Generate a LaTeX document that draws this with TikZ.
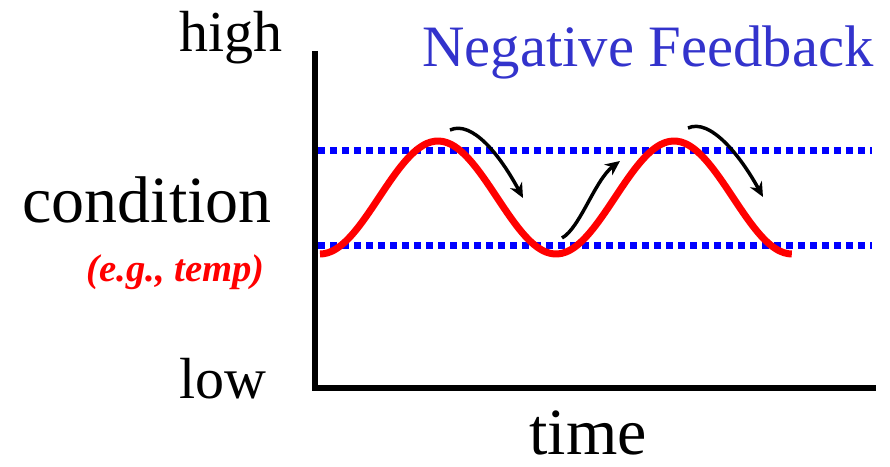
\documentclass[tikz,border=0pt]{standalone}
\usepackage{fontspec}
\setmainfont{Liberation Serif}
\usepackage{xcolor}
\usetikzlibrary{arrows.meta,positioning}
\definecolor{fbblue}{RGB}{51,51,204}

\begin{document}
\begin{tikzpicture}[
  x=0.75pt, y=-0.75pt,
  axisline/.style={line width=4.5pt,line join=miter},
  limit/.style={blue,line width=5.25pt,dash pattern=on 5.25pt off 3.75pt},
  wave/.style={red,line width=5.25pt},
  arr/.style={-{Stealth[length=11pt,width=10pt,inset=3.5pt]},line width=2.6pt},
  lbl/.style={inner sep=0pt,font=\fontsize{43.5}{50}\selectfont},
  big/.style={inner sep=0pt,font=\fontsize{49.5}{56}\selectfont}
]
  \useasboundingbox (0,0) rectangle (890,467);

  % axes
  \coordinate (top) at (315,51);
  \coordinate (origin) at (315,388);
  \coordinate (right) at (876,388);
  \draw[axisline] (top) -- (origin) -- (right);

  % set point limits
  \coordinate (hiL) at (318,151);
  \coordinate (hiR) at (872,151);
  \coordinate (loL) at (318,245);
  \coordinate (loR) at (872,245);
  \draw[limit] (hiL) -- (hiR);
  \draw[limit] (loL) -- (loR);

  % condition over time
  \draw[wave] plot[domain=0:2,samples=120,smooth] ({320+236*\x},{197.5+56.5*cos(360*\x)});

  % labels
  \node[lbl, anchor=base east] (high) at (283,52) {high};
  \node[big, anchor=base east] (cond) at (272,222) {condition};
  \node[anchor=base east, inner sep=0pt, text=red, font=\fontsize{29}{34}\selectfont\bfseries\itshape] (eg) at (265,281) {(e.g., temp)};
  \node[lbl, anchor=base east] (low) at (267,398) {low};
  \node[big, anchor=base] (time) at (588,454) {time};
  \node[anchor=base west, inner sep=0pt, text=fbblue, font=\fontsize{44}{50}\selectfont] (title) at (422,67) {Negative Feedback};

  % feedback arrows
  \coordinate (d1s) at (450,130);
  \coordinate (d1e) at (523,198);
  \coordinate (u1s) at (562,238);
  \coordinate (u1e) at (620,161);
  \coordinate (d2s) at (688,128);
  \coordinate (d2e) at (763,197);
  \draw[arr] (d1s) .. controls (472,120) and (500,155) .. (d1e);
  \draw[arr] (u1s) .. controls (580,228) and (595,180) .. (u1e);
  \draw[arr] (d2s) .. controls (710,118) and (740,155) .. (d2e);
\end{tikzpicture}
\end{document}
